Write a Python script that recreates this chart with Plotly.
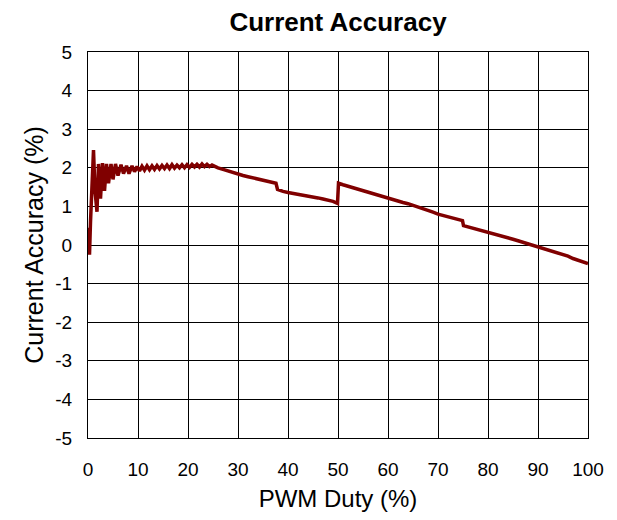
import plotly.graph_objects as go

duty = [0.0, 0.1, 0.3, 0.5, 0.8, 1.1, 1.4, 1.8, 2.1, 2.5, 2.9, 3.3, 3.7, 4.1, 4.6, 5.0, 5.5, 6.0, 6.6, 7.1, 7.7, 8.2, 8.8, 9.3,
        9.8, 10.3, 10.8, 11.3, 11.8, 12.3, 12.8, 13.3, 13.8, 14.3, 14.8, 15.3, 15.8, 16.3, 16.8, 17.3, 17.8, 18.3, 18.8,
        19.3, 19.8, 20.3, 20.8, 21.3, 21.8, 22.3, 22.8, 23.3, 23.8, 24.3, 24.8, 25.3, 26.0, 27.0, 28.0, 29.0, 30.0,
        31.0, 32.0, 33.0, 34.0, 35.0, 36.0, 37.0, 37.6, 37.9, 38.3, 39.0, 40.0, 41.0, 42.0, 43.0, 44.0, 45.0, 46.0,
        47.0, 48.0, 49.0, 49.9, 50.1, 51.0, 52.0, 53.0, 54.0, 55.0, 56.0, 57.0, 58.0, 59.0, 60.0, 61.0, 62.0, 62.5,
        63.0, 64.0, 65.0, 66.0, 67.0, 68.0, 69.0, 70.0, 71.0, 72.0, 73.0, 74.0, 74.9, 75.1, 76.0, 77.0, 78.0, 79.0,
        80.0, 81.0, 82.0, 83.0, 84.0, 85.0, 86.0, 87.0, 88.0, 89.0, 90.0, 91.0, 92.0, 93.0, 94.0, 95.0, 96.0, 97.0,
        98.0, 99.0, 100.0]
accuracy = [0.45, 0.2, -0.25, 0.6, 1.5, 2.46, 1.4, 0.86, 2.1, 1.2, 2.12, 1.4, 2.1, 1.6, 2.1, 1.7, 2.1, 1.8, 2.08, 1.85, 2.05, 1.85, 2.05, 1.9,
            2.03, 1.92, 2.04, 1.94, 2.05, 1.95, 2.05, 1.96, 2.06, 1.97, 2.06, 1.98, 2.07, 1.98, 2.08, 1.99, 2.07, 2.0, 2.08,
            2.0, 2.08, 2.01, 2.09, 2.02, 2.09, 2.02, 2.1, 2.03, 2.09, 2.03, 2.07, 2.03, 2.0, 1.96, 1.92, 1.87, 1.82,
            1.8, 1.77, 1.74, 1.71, 1.68, 1.65, 1.62, 1.6, 1.44, 1.42, 1.39, 1.36, 1.34, 1.32, 1.3, 1.27, 1.24, 1.22,
            1.19, 1.16, 1.13, 1.08, 1.6, 1.56, 1.52, 1.49, 1.45, 1.42, 1.38, 1.34, 1.28, 1.24, 1.2, 1.17, 1.13, 1.1,
            1.1, 1.07, 1.03, 0.99, 0.94, 0.9, 0.85, 0.8, 0.77, 0.73, 0.7, 0.67, 0.63, 0.5, 0.47, 0.43, 0.39, 0.36,
            0.32, 0.29, 0.25, 0.22, 0.18, 0.15, 0.11, 0.07, 0.04, 0.0, -0.03, -0.07, -0.12, -0.16, -0.2, -0.25, -0.29, -0.35,
            -0.39, -0.43, -0.48]

x_ticks = [0, 10, 20, 30, 40, 50, 60, 70, 80, 90, 100]
y_ticks = [-5, -4, -3, -2, -1, 0, 1, 2, 3, 4, 5]
y_tick_labels = ["-5", "-4", "-3", "-2", "-1", "0", "1", "2", "3", "4", "5"]

fig = go.Figure()
fig.add_trace(go.Scatter(x=duty, y=accuracy, mode="lines",
                         line=dict(color="#800000", width=3.5), showlegend=False))

font_family = "Liberation Sans, Arial, sans-serif"
fig.update_layout(
    width=609, height=512,
    margin=dict(l=80, r=29, t=44, b=82),
    paper_bgcolor="white", plot_bgcolor="white",
    font=dict(family=font_family, color="black"),
    title=dict(text="<b>Current Accuracy</b>", xref="paper", x=0.5, xanchor="center", y=1 - 14 / 512, yanchor="middle",
               font=dict(size=26, family=font_family, color="black")),
)
fig.update_xaxes(range=[0, 100], tickvals=x_ticks, showgrid=True, gridcolor="black", gridwidth=1,
                 showline=True, linecolor="black", linewidth=1, mirror=True, zeroline=False,
                 ticks="", ticklabelstandoff=14, tickfont=dict(size=19),
                 title=dict(text="PWM Duty (%)", font=dict(size=24), standoff=11))
fig.update_yaxes(range=[-5, 5], tickvals=y_ticks, ticktext=y_tick_labels, showgrid=True, gridcolor="black", gridwidth=1,
                 showline=True, linecolor="black", linewidth=1, mirror=True, zeroline=False,
                 ticks="", ticklabelstandoff=11, tickfont=dict(size=19),
                 title=dict(text="Current Accuracy (%)", font=dict(size=25), standoff=4))

fig.write_html("out.html")
